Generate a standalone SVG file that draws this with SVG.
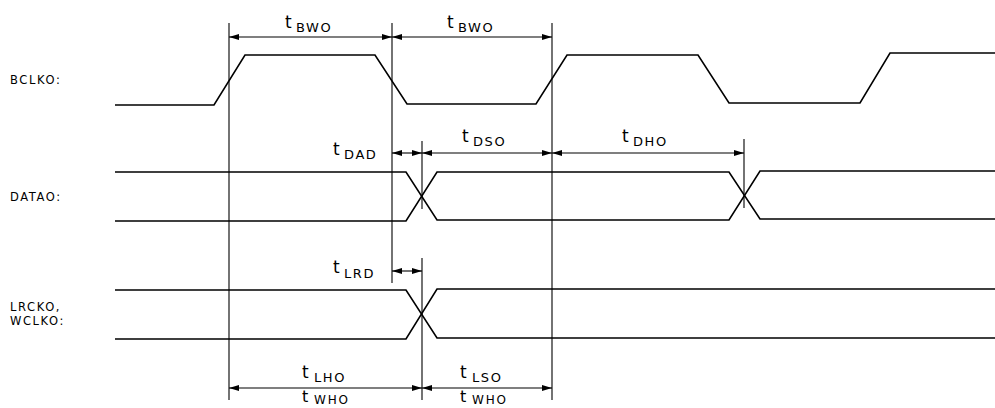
<svg xmlns="http://www.w3.org/2000/svg" width="995" height="408" viewBox="0 0 995 408">
<style>
.sig{fill:none;stroke:#000;stroke-width:1.6}
.vl{fill:none;stroke:#000;stroke-width:1.1}
.ar{fill:none;stroke:#000;stroke-width:1.1;marker-start:url(#ah);marker-end:url(#ah)}
.lbl{font-family:"DejaVu Sans",Verdana,sans-serif;font-size:11.5px;letter-spacing:1.6px;fill:#000}
.t{font-family:"DejaVu Sans",Verdana,sans-serif;font-size:17px;fill:#000}
.s{font-family:"DejaVu Sans",Verdana,sans-serif;font-size:13px;letter-spacing:1.6px;fill:#000}
.tb{font-family:"DejaVu Sans",Verdana,sans-serif;font-size:16px;fill:#000}
.sb{font-family:"DejaVu Sans",Verdana,sans-serif;font-size:12px;letter-spacing:1.8px;fill:#000}
</style>
<defs>
<marker id="ah" viewBox="0 0 10 6" refX="10" refY="3" markerWidth="10" markerHeight="6" markerUnits="userSpaceOnUse" orient="auto-start-reverse">
<path d="M0,0 L10,3 L0,6 Z" fill="#000"/>
</marker>
</defs>
<rect width="995" height="408" fill="#fff"/>
<g id="labels">
<text class="lbl" x="10" y="84">BCLKO:</text>
<text class="lbl" x="10" y="201">DATAO:</text>
<text class="lbl" x="10" y="311">LRCKO,</text>
<text class="lbl" x="10" y="325">WCLKO:</text>
</g>
<g id="bclk">
<polyline class="sig" points="115,105 214,105 245,55 375,55 407,104 536,104 567,55 698,55 729,103 860,103 890,53 995,53"/>
</g>
<g id="data">
<polyline class="sig" points="115,172 406,172 437,220 729,220 760,171 995,171"/>
<polyline class="sig" points="115,221 406,221 437,172 729,172 760,219 995,219"/>
</g>
<g id="lrck">
<polyline class="sig" points="115,290 406,290 437,338 995,338"/>
<polyline class="sig" points="115,339 406,339 437,289 995,289"/>
</g>
<g id="connectors">
<line class="vl" x1="229" y1="23" x2="229" y2="400"/>
<line class="vl" x1="392" y1="23" x2="392" y2="283"/>
<line class="vl" x1="552" y1="23" x2="552" y2="400"/>
<line class="vl" x1="422" y1="141" x2="422" y2="209"/>
<line class="vl" x1="422" y1="258" x2="422" y2="400"/>
<line class="vl" x1="744" y1="139" x2="744" y2="208"/>
<line class="ar" x1="229" y1="37" x2="392" y2="37"/>
<line class="ar" x1="392" y1="37" x2="552" y2="37"/>
<line class="ar" x1="392" y1="153" x2="422" y2="153"/>
<line class="ar" x1="422" y1="153" x2="552" y2="153"/>
<line class="ar" x1="552" y1="153" x2="744" y2="153"/>
<line class="ar" x1="392" y1="271" x2="422" y2="271"/>
<line class="ar" x1="229" y1="388" x2="422" y2="388"/>
<line class="ar" x1="422" y1="388" x2="552" y2="388"/>
</g>
<g id="timing-labels">
<text class="t" x="285" y="28">t</text><text class="s" x="296" y="32">BWO</text>
<text class="t" x="447" y="28">t</text><text class="s" x="458" y="32">BWO</text>
<text class="t" x="333" y="155">t</text><text class="s" x="344" y="159">DAD</text>
<text class="t" x="462" y="142">t</text><text class="s" x="473" y="146">DSO</text>
<text class="t" x="622" y="142">t</text><text class="s" x="633" y="146">DHO</text>
<text class="t" x="333" y="273">t</text><text class="s" x="344" y="278">LRD</text>
<text class="t" x="302" y="378">t</text><text class="s" x="314" y="382">LHO</text>
<text class="t" x="460" y="378">t</text><text class="s" x="472" y="382">LSO</text>
<text class="tb" x="302" y="402">t</text><text class="sb" x="314" y="404">WHO</text>
<text class="tb" x="460" y="402">t</text><text class="sb" x="472" y="404">WHO</text>
</g>
</svg>
